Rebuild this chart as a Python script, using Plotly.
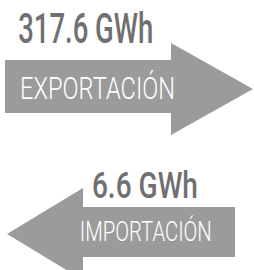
import json
import plotly.graph_objects as go

labels = ["EXPORTACIÓN", "IMPORTACIÓN"]
values = [317.6, 6.6]
unit = "GWh"

ARROW = "#9b9b9b"
TEXT = "#707070"
FONT = "Roboto, Liberation Sans, sans-serif"

fig = go.Figure()

# right-pointing arrow (export)
exp_path = "M 5 60 L 171 60 L 171 43 L 253 89 L 171 135 L 171 113 L 5 113 Z"
# left-pointing arrow (import)
imp_path = "M 235 207 L 83 207 L 83 188 L 7 234 L 83 280 L 83 257 L 235 257 Z"
for p in (exp_path, imp_path):
    fig.add_shape(type="path", path=p, xref="x", yref="y",
                  fillcolor=ARROW, line=dict(width=0), layer="below")

# (x centre, y centre, font size, colour, weight, target width in px)
styles = [
    (85.5, 27.5, 43, TEXT, 500, 135),
    (97.5, 88, 31, "white", 300, 155),
    (145, 185, 37, TEXT, 500, 106),
    (146, 231, 27, "white", 300, 132),
]
texts = [f"{values[0]} {unit}", labels[0], f"{values[1]} {unit}", labels[1]]

for t, (x, y, s, c, w, _) in zip(texts, styles):
    fig.add_annotation(x=x, y=y, text=t, showarrow=False,
                       xanchor="center", yanchor="middle", borderpad=0,
                       font=dict(family=FONT, size=s, color=c, weight=w))

fig.update_xaxes(range=[0, 254], visible=False, fixedrange=True)
fig.update_yaxes(range=[270, 0], visible=False, fixedrange=True)
fig.update_layout(width=254, height=270, margin=dict(l=0, r=0, t=0, b=0),
                  paper_bgcolor="white", plot_bgcolor="white", showlegend=False)

widths = json.dumps([s[5] for s in styles])
post = """
document.body.style.margin = '0';
document.body.style.overflow = 'hidden';
var gd = document.getElementById('{plot_id}');
var widths = %s;
function condense() {
  var els = gd.querySelectorAll('.annotation-text');
  els.forEach(function (el, i) {
    el.setAttribute('textLength', widths[i]);
    el.setAttribute('lengthAdjust', 'spacingAndGlyphs');
  });
}
condense();
gd.on && gd.on('plotly_afterplot', condense);
""" % widths

fig.write_html("out.html", config={"displayModeBar": False}, post_script=post)
